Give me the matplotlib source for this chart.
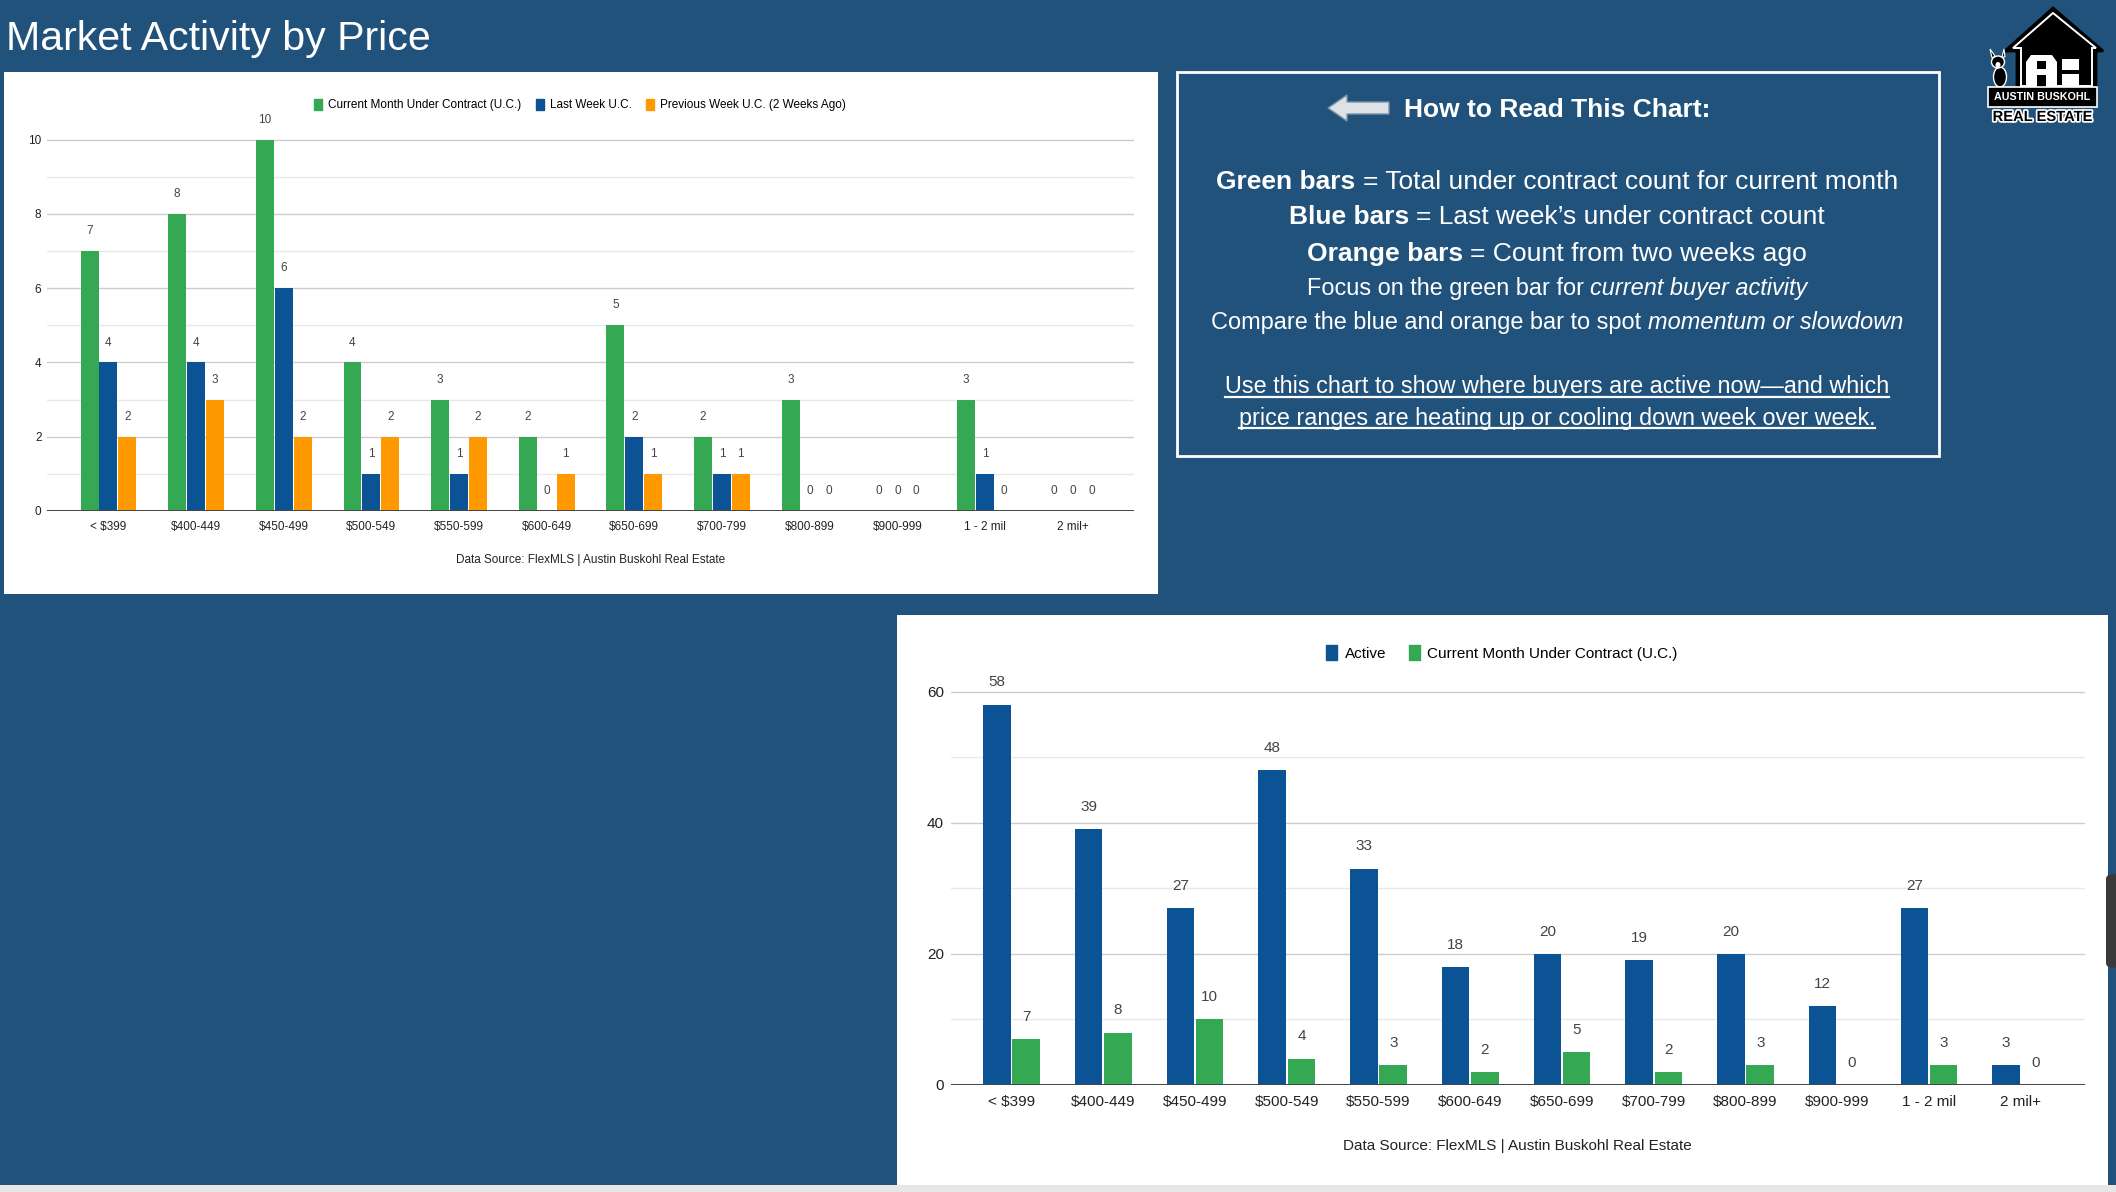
import matplotlib
matplotlib.use('Agg')
import numpy as np
import matplotlib.pyplot as plt
from matplotlib.patches import Rectangle, Polygon, Patch, Ellipse, FancyBboxPatch
from matplotlib.lines import Line2D
import matplotlib.patheffects as pe

# ---- data ----
categories = ['< $399', '$400-449', '$450-499', '$500-549', '$550-599', '$600-649',
              '$650-699', '$700-799', '$800-899', '$900-999', '1 - 2 mil', '2 mil+']
cur_month_uc = [7, 8, 10, 4, 3, 2, 5, 2, 3, 0, 3, 0]
last_week_uc = [4, 4, 6, 1, 1, 0, 2, 1, 0, 0, 1, 0]
prev_week_uc = [2, 3, 2, 2, 2, 1, 1, 1, 0, 0, 0, 0]
active = [58, 39, 27, 48, 33, 18, 20, 19, 20, 12, 27, 3]

top_labels = ['Current Month Under Contract (U.C.)', 'Last Week U.C.', 'Previous Week U.C. (2 Weeks Ago)']
bottom_labels = ['Active', 'Current Month Under Contract (U.C.)']
source = 'Data Source: FlexMLS | Austin Buskohl Real Estate'

GREEN = '#34a853'
BLUE = '#0b5394'
ORANGE = '#ff9900'
BG = '#21527b'
NARROW = ['Liberation Sans Narrow', 'Liberation Sans', 'DejaVu Sans']
REGULAR = ['Liberation Sans', 'DejaVu Sans']

plt.rcParams['font.family'] = NARROW

W, H = 2116, 1192
fig = plt.figure(figsize=(W / 100, H / 100), dpi=100, facecolor=BG)
renderer = fig.canvas.get_renderer()


def fx(x):
    return x / W


def fy(y):
    return 1 - y / H


def box(x0, y0, x1, y1):
    return [fx(x0), fy(y1), (x1 - x0) / W, (y1 - y0) / H]


# white panels (behind the axes)
fig.patches.append(Rectangle((fx(4), fy(594)), 1154 / W, 522 / H, transform=fig.transFigure,
                             facecolor='white', edgecolor='none', zorder=-2))
fig.patches.append(Rectangle((fx(897), fy(1185)), 1211 / W, 570 / H, transform=fig.transFigure,
                             facecolor='white', edgecolor='none', zorder=-2))
# bottom strip + side handle
fig.patches.append(Rectangle((0, 0), 1, 7 / H, transform=fig.transFigure,
                             facecolor='#e6e6e6', edgecolor='none', zorder=-1))
fig.patches.append(FancyBboxPatch((fx(2106), fy(968)), 14 / W, 94 / H, transform=fig.transFigure,
                                  boxstyle='round,pad=0,rounding_size=0.004',
                                  facecolor='#3a3a3a', edgecolor='none', zorder=1))


def style_axes(ax, fs):
    for s in ax.spines.values():
        s.set_visible(False)
    ax.tick_params(axis='both', which='both', length=0, labelsize=fs, labelcolor='#222')
    ax.grid(axis='y', which='major', color='#cccccc', lw=1)
    ax.grid(axis='y', which='minor', color='#e8e8e8', lw=1)
    ax.set_axisbelow(True)
    ax.axhline(0, color='#444', lw=1.4, zorder=3)
    ax.set_facecolor('white')


# ---- top chart ----
ax1 = fig.add_axes(box(47, 139, 1134, 511))
x = np.arange(len(categories))
w1 = 0.205
b1 = ax1.bar(x - 0.215, cur_month_uc, w1, color=GREEN, zorder=2)
b2 = ax1.bar(x, last_week_uc, w1, color=BLUE, zorder=2)
b3 = ax1.bar(x + 0.215, prev_week_uc, w1, color=ORANGE, zorder=2)
for b in (b1, b2, b3):
    ax1.bar_label(b, padding=10, fontsize=8.5, color='#444')
ax1.set_xlim(-0.7, 11.7)
ax1.set_ylim(0, 10.02)
ax1.set_yticks(np.arange(0, 11, 2))
ax1.set_yticks(np.arange(1, 10, 2), minor=True)
ax1.set_xticks(x)
ax1.set_xticklabels(categories)
style_axes(ax1, 8.5)
ax1.tick_params(axis='x', pad=7)
ax1.tick_params(axis='y', pad=4)
ax1.legend([Patch(color=GREEN), Patch(color=BLUE), Patch(color=ORANGE)], top_labels,
           loc='center', bbox_to_anchor=(fx(580), fy(105)), bbox_transform=fig.transFigure,
           ncol=3, frameon=False, fontsize=8.5, handlelength=0.7, handleheight=1.1,
           handletextpad=0.5, columnspacing=1.2)
fig.text(fx(591), fy(560), source, fontsize=8.5, color='#222', ha='center', va='center')

# ---- bottom chart ----
ax2 = fig.add_axes(box(951, 691, 2085, 1085))
w2 = 0.3
c1 = ax2.bar(x - 0.16, active, w2, color=BLUE, zorder=2)
c2 = ax2.bar(x + 0.16, cur_month_uc, w2, color=GREEN, zorder=2)
for b in (c1, c2):
    ax2.bar_label(b, padding=11, fontsize=11, color='#444')
ax2.set_xlim(-0.66, 11.7)
ax2.set_ylim(0, 60.1)
ax2.set_yticks([0, 20, 40, 60])
ax2.set_yticks([10, 30, 50], minor=True)
ax2.set_xticks(x)
ax2.set_xticklabels(categories)
style_axes(ax2, 11)
ax2.tick_params(axis='x', pad=7)
ax2.tick_params(axis='y', pad=5)
ax2.legend([Patch(color=BLUE), Patch(color=GREEN)], bottom_labels,
           loc='center', bbox_to_anchor=(fx(1502), fy(653)), bbox_transform=fig.transFigure,
           ncol=2, frameon=False, fontsize=11, handlelength=0.7, handleheight=1.1,
           handletextpad=0.5, columnspacing=1.5)
fig.text(fx(1517), fy(1146), source, fontsize=11, color='#222', ha='center', va='center')


# ---- text helpers ----
def seg_width(s, size, weight='normal', style='normal', family=NARROW):
    t = fig.text(0, 0, s, fontsize=size, weight=weight, style=style, family=family)
    w = t.get_window_extent(renderer).width
    t.remove()
    return w


def rich_line(parts, y, width, cx=None, left=None, size=16, family=NARROW,
              underline=False, color='white'):
    def measure(sz):
        ws = [seg_width(s, sz, wg, st, family) for s, wg, st in parts]
        sp = seg_width('a a', sz, family=family) - seg_width('aa', sz, family=family)
        return ws, sp, sum(ws) + sp * (len(parts) - 1)
    ws, sp, tot = measure(size)
    size = size * width / tot
    ws, sp, tot = measure(size)
    x0 = cx - tot / 2 if left is None else left
    xx = x0
    for (s, wg, st), w in zip(parts, ws):
        fig.text(fx(xx), fy(y), s, fontsize=size, weight=wg, style=st, family=family,
                 color=color, ha='left', va='center')
        xx += w + sp
    if underline:
        uy = y + 0.42 * size * 100 / 72
        fig.add_artist(Line2D([fx(x0), fx(x0 + tot)], [fy(uy), fy(uy)], color=color, lw=1.6,
                              transform=fig.transFigure))
    return size


# title
rich_line([('Market Activity by Price', 'normal', 'normal')], 39, 425, left=6, size=28,
          family=REGULAR)

# how-to box
fig.patches.append(Rectangle((fx(1177), fy(456)), 762 / W, 384 / H, transform=fig.transFigure,
                             facecolor='none', edgecolor='white', lw=2, zorder=2))
fig.patches.append(Polygon([(fx(1328), fy(108)), (fx(1347), fy(95)), (fx(1347), fy(102)),
                            (fx(1389), fy(102)), (fx(1389), fy(114)), (fx(1347), fy(114)),
                            (fx(1347), fy(121))], closed=True, transform=fig.transFigure,
                           facecolor='#dde2e6', edgecolor='#7f93a6', lw=1, zorder=2))
B, N, I = 'bold', 'normal', 'italic'
rich_line([('How to Read This Chart:', B, N)], 110, 306, left=1404)
cx = 1557
rich_line([('Green bars', B, N), ('= Total under contract count for current month', N, N)], 182, 680, cx=cx)
rich_line([('Blue bars', B, N), ('= Last week’s under contract count', N, N)], 217, 537, cx=cx)
rich_line([('Orange bars', B, N), ('= Count from two weeks ago', N, N)], 254, 499, cx=cx)
rich_line([('Focus on the green bar for', N, N), ('current buyer activity', N, I)], 288, 500, cx=cx)
rich_line([('Compare the blue and orange bar to spot', N, N), ('momentum or slowdown', N, I)], 322, 691, cx=cx)
rich_line([('Use this chart to show where buyers are active now—and which', N, N)], 387, 664, cx=cx,
          underline=True)
rich_line([('price ranges are heating up or cooling down week over week.', N, N)], 418, 637, cx=cx,
          underline=True)

# ---- logo ----
lg = fig.add_axes(box(1984, 4, 2106, 128))
lg.set_xlim(1984, 2106)
lg.set_ylim(128, 4)
lg.axis('off')
house = [(2005, 51), (2053, 8), (2103, 51), (2096, 51), (2096, 89), (2017, 89), (2017, 51)]
lg.add_patch(Polygon(house, closed=True, facecolor='black', edgecolor='black', lw=2))
inner = [(2013, 48), (2053, 13), (2096, 48), (2092, 48), (2092, 86), (2021, 86), (2021, 48)]
lg.add_patch(Polygon(inner, closed=True, facecolor='none', edgecolor='white', lw=1.4))
# A letter
lg.add_patch(Polygon([(2026, 86), (2026, 62), (2031, 55), (2052, 55), (2057, 62), (2057, 86)],
                     closed=True, facecolor='white', edgecolor='none'))
lg.add_patch(Rectangle((2037, 61), 9, 8, facecolor='black'))
lg.add_patch(Rectangle((2037, 75), 9, 12, facecolor='black'))
# E blocks
lg.add_patch(Rectangle((2062, 59), 17, 11, facecolor='white'))
lg.add_patch(Rectangle((2062, 74), 17, 11, facecolor='white'))
# dog
lg.add_patch(Ellipse((2000, 77), 13, 20, facecolor='black', edgecolor='white', lw=1))
lg.add_patch(Ellipse((1998, 62), 13, 12, facecolor='black', edgecolor='white', lw=1))
lg.add_patch(Polygon([(1992, 58), (1990, 49), (1995, 56)], facecolor='black', edgecolor='white', lw=0.8))
lg.add_patch(Polygon([(2002, 57), (2004, 49), (2005, 57)], facecolor='black', edgecolor='white', lw=0.8))
lg.add_patch(Ellipse((1998, 65), 5, 6, facecolor='white', edgecolor='none'))
# band
lg.add_patch(Rectangle((1988, 87), 109, 20, facecolor='black', edgecolor='white', lw=1.2))
sz = 9
t = lg.text(2042.5, 97.5, 'AUSTIN BUSKOHL', fontsize=sz, weight='bold', color='white',
            ha='center', va='center', family=REGULAR)
tw = t.get_window_extent(renderer).width
t.set_fontsize(sz * 96 / tw)
t2 = lg.text(2042.5, 117, 'REAL ESTATE', fontsize=sz, weight='bold', color='black',
             ha='center', va='center', family=REGULAR)
tw = t2.get_window_extent(renderer).width
t2.set_fontsize(sz * 100 / tw)
t2.set_path_effects([pe.withStroke(linewidth=2.5, foreground='white')])

fig.savefig('out.png', dpi=100, facecolor=BG)
